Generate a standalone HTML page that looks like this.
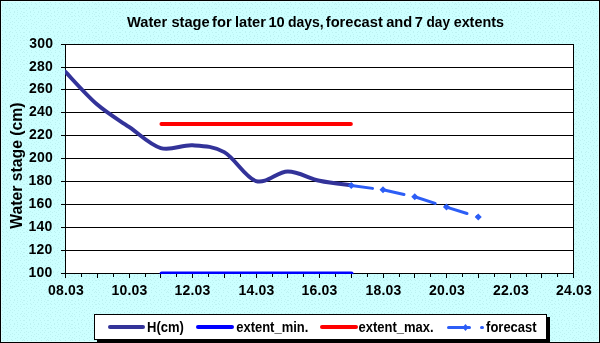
<!DOCTYPE html><html><head><meta charset="utf-8"><style>html,body{margin:0;padding:0;background:#fff;overflow:hidden;}svg{display:block;will-change:transform;}text{font-family:"Liberation Sans",sans-serif;font-weight:bold;fill:#000;}</style></head><body>
<svg width="600" height="343" viewBox="0 0 600 343">
<rect x="0" y="0" width="600" height="343" fill="#000"/>
<defs><pattern id="bgp" width="24" height="24" patternUnits="userSpaceOnUse"><rect width="24" height="24" fill="#CCFFFF"/><g fill="#BCF1F1"><rect x="0" y="1" width="1" height="1"/><rect x="4" y="0" width="1" height="1"/><rect x="9" y="0" width="1" height="1"/><rect x="12" y="0" width="1" height="1"/><rect x="17" y="1" width="1" height="1"/><rect x="21" y="1" width="1" height="1"/><rect x="2" y="2" width="1" height="1"/><rect x="7" y="2" width="1" height="1"/><rect x="11" y="3" width="1" height="1"/><rect x="15" y="2" width="1" height="1"/><rect x="20" y="2" width="1" height="1"/><rect x="23" y="3" width="1" height="1"/><rect x="0" y="4" width="1" height="1"/><rect x="3" y="4" width="1" height="1"/><rect x="7" y="4" width="1" height="1"/><rect x="12" y="4" width="1" height="1"/><rect x="17" y="4" width="1" height="1"/><rect x="22" y="4" width="1" height="1"/><rect x="2" y="6" width="1" height="1"/><rect x="5" y="7" width="1" height="1"/><rect x="10" y="7" width="1" height="1"/><rect x="15" y="6" width="1" height="1"/><rect x="19" y="6" width="1" height="1"/><rect x="0" y="8" width="1" height="1"/><rect x="5" y="8" width="1" height="1"/><rect x="9" y="8" width="1" height="1"/><rect x="12" y="8" width="1" height="1"/><rect x="16" y="8" width="1" height="1"/><rect x="20" y="8" width="1" height="1"/><rect x="23" y="8" width="1" height="1"/><rect x="2" y="10" width="1" height="1"/><rect x="6" y="11" width="1" height="1"/><rect x="9" y="10" width="1" height="1"/><rect x="14" y="11" width="1" height="1"/><rect x="17" y="10" width="1" height="1"/><rect x="21" y="11" width="1" height="1"/><rect x="0" y="12" width="1" height="1"/><rect x="3" y="13" width="1" height="1"/><rect x="6" y="12" width="1" height="1"/><rect x="10" y="12" width="1" height="1"/><rect x="14" y="12" width="1" height="1"/><rect x="17" y="12" width="1" height="1"/><rect x="20" y="13" width="1" height="1"/><rect x="23" y="12" width="1" height="1"/><rect x="2" y="15" width="1" height="1"/><rect x="6" y="15" width="1" height="1"/><rect x="9" y="14" width="1" height="1"/><rect x="13" y="14" width="1" height="1"/><rect x="17" y="14" width="1" height="1"/><rect x="22" y="14" width="1" height="1"/><rect x="0" y="16" width="1" height="1"/><rect x="3" y="16" width="1" height="1"/><rect x="7" y="16" width="1" height="1"/><rect x="11" y="16" width="1" height="1"/><rect x="16" y="16" width="1" height="1"/><rect x="20" y="16" width="1" height="1"/><rect x="23" y="16" width="1" height="1"/><rect x="2" y="19" width="1" height="1"/><rect x="6" y="19" width="1" height="1"/><rect x="10" y="18" width="1" height="1"/><rect x="14" y="18" width="1" height="1"/><rect x="18" y="18" width="1" height="1"/><rect x="21" y="18" width="1" height="1"/><rect x="0" y="20" width="1" height="1"/><rect x="4" y="20" width="1" height="1"/><rect x="8" y="20" width="1" height="1"/><rect x="12" y="21" width="1" height="1"/><rect x="16" y="20" width="1" height="1"/><rect x="20" y="20" width="1" height="1"/><rect x="2" y="22" width="1" height="1"/><rect x="7" y="23" width="1" height="1"/><rect x="10" y="22" width="1" height="1"/><rect x="14" y="22" width="1" height="1"/><rect x="18" y="22" width="1" height="1"/><rect x="22" y="23" width="1" height="1"/></g></pattern></defs>
<rect x="1" y="1" width="598" height="341" fill="url(#bgp)"/>
<rect x="1.5" y="1.5" width="597" height="340" fill="none" stroke="#DCFFFF" stroke-width="1"/>
<text x="126.99" y="27" font-size="14.67">Water</text>
<text x="171.38" y="27" font-size="14.67">stage</text>
<text x="212.05" y="27" font-size="14.67">for</text>
<text x="234.98" y="27" font-size="14.67">later</text>
<text x="268.38" y="27" font-size="14.67">10</text>
<g transform="translate(288.50,0) scale(0.955,1) translate(-288.50,0)"><text x="287.90" y="27" font-size="14.67">days,</text></g>
<text x="325.75" y="27" font-size="14.67">forecast</text>
<text x="386.17" y="27" font-size="14.67">and</text>
<text x="414.87" y="27" font-size="14.67">7</text>
<g transform="translate(427.10,0) scale(0.93,1) translate(-427.10,0)"><text x="426.50" y="27" font-size="14.67">day</text></g>
<g transform="translate(454.20,0) scale(0.98,1) translate(-454.20,0)"><text x="453.63" y="27" font-size="14.67">extents</text></g>
<rect x="66" y="45" width="507" height="228" fill="#fff"/>
<rect x="61" y="44" width="513" height="1" fill="#000"/><rect x="61" y="67" width="513" height="1" fill="#000"/><rect x="61" y="89" width="513" height="1" fill="#000"/><rect x="61" y="112" width="513" height="1" fill="#000"/><rect x="61" y="135" width="513" height="1" fill="#000"/><rect x="61" y="158" width="513" height="1" fill="#000"/><rect x="61" y="181" width="513" height="1" fill="#000"/><rect x="61" y="204" width="513" height="1" fill="#000"/><rect x="61" y="227" width="513" height="1" fill="#000"/><rect x="61" y="250" width="513" height="1" fill="#000"/><rect x="61" y="273" width="513" height="1" fill="#000"/>
<rect x="65" y="44" width="1" height="234" fill="#000"/>
<rect x="573" y="44" width="1" height="234" fill="#000"/>
<rect x="81" y="274" width="1" height="3" fill="#000"/><rect x="97" y="274" width="1" height="4" fill="#000"/><rect x="113" y="274" width="1" height="3" fill="#000"/><rect x="129" y="274" width="1" height="4" fill="#000"/><rect x="145" y="274" width="1" height="3" fill="#000"/><rect x="160" y="274" width="1" height="4" fill="#000"/><rect x="176" y="274" width="1" height="3" fill="#000"/><rect x="192" y="274" width="1" height="4" fill="#000"/><rect x="208" y="274" width="1" height="3" fill="#000"/><rect x="224" y="274" width="1" height="4" fill="#000"/><rect x="240" y="274" width="1" height="3" fill="#000"/><rect x="256" y="274" width="1" height="4" fill="#000"/><rect x="272" y="274" width="1" height="3" fill="#000"/><rect x="287" y="274" width="1" height="4" fill="#000"/><rect x="303" y="274" width="1" height="3" fill="#000"/><rect x="319" y="274" width="1" height="4" fill="#000"/><rect x="335" y="274" width="1" height="3" fill="#000"/><rect x="351" y="274" width="1" height="4" fill="#000"/><rect x="367" y="274" width="1" height="3" fill="#000"/><rect x="383" y="274" width="1" height="4" fill="#000"/><rect x="399" y="274" width="1" height="3" fill="#000"/><rect x="414" y="274" width="1" height="4" fill="#000"/><rect x="430" y="274" width="1" height="3" fill="#000"/><rect x="446" y="274" width="1" height="4" fill="#000"/><rect x="462" y="274" width="1" height="3" fill="#000"/><rect x="478" y="274" width="1" height="4" fill="#000"/><rect x="494" y="274" width="1" height="3" fill="#000"/><rect x="510" y="274" width="1" height="4" fill="#000"/><rect x="526" y="274" width="1" height="3" fill="#000"/><rect x="541" y="274" width="1" height="4" fill="#000"/><rect x="557" y="274" width="1" height="3" fill="#000"/>
<g transform="translate(0,48) scale(1,1.09) translate(0,-48)"><text x="29.18 37.18 45.18" y="48" font-size="14">300</text></g>
<g transform="translate(0,71) scale(1,1.09) translate(0,-71)"><text x="29.01 37.01 45.01" y="71" font-size="14">280</text></g>
<g transform="translate(0,93) scale(1,1.09) translate(0,-93)"><text x="29.01 37.01 45.01" y="93" font-size="14">260</text></g>
<g transform="translate(0,116) scale(1,1.09) translate(0,-116)"><text x="29.01 37.01 45.01" y="116" font-size="14">240</text></g>
<g transform="translate(0,139) scale(1,1.09) translate(0,-139)"><text x="29.01 37.01 45.01" y="139" font-size="14">220</text></g>
<g transform="translate(0,162) scale(1,1.09) translate(0,-162)"><text x="29.01 37.01 45.01" y="162" font-size="14">200</text></g>
<g transform="translate(0,185) scale(1,1.09) translate(0,-185)"><text x="28.62 36.62 44.62" y="185" font-size="14">180</text></g>
<g transform="translate(0,208) scale(1,1.09) translate(0,-208)"><text x="28.62 36.62 44.62" y="208" font-size="14">160</text></g>
<g transform="translate(0,231) scale(1,1.09) translate(0,-231)"><text x="28.62 36.62 44.62" y="231" font-size="14">140</text></g>
<g transform="translate(0,254) scale(1,1.09) translate(0,-254)"><text x="28.62 36.62 44.62" y="254" font-size="14">120</text></g>
<g transform="translate(0,277) scale(1,1.09) translate(0,-277)"><text x="28.62 36.62 44.62" y="277" font-size="14">100</text></g>
<g transform="translate(0,295) scale(1,1.09) translate(0,-295)"><text x="47.95 55.95 63.95 67.95 75.95" y="295" font-size="14">08.03</text></g>
<g transform="translate(0,295) scale(1,1.09) translate(0,-295)"><text x="111.62 119.62 127.62 131.62 139.62" y="295" font-size="14">10.03</text></g>
<g transform="translate(0,295) scale(1,1.09) translate(0,-295)"><text x="174.62 182.62 190.62 194.62 202.62" y="295" font-size="14">12.03</text></g>
<g transform="translate(0,295) scale(1,1.09) translate(0,-295)"><text x="238.62 246.62 254.62 258.62 266.62" y="295" font-size="14">14.03</text></g>
<g transform="translate(0,295) scale(1,1.09) translate(0,-295)"><text x="301.62 309.62 317.62 321.62 329.62" y="295" font-size="14">16.03</text></g>
<g transform="translate(0,295) scale(1,1.09) translate(0,-295)"><text x="365.62 373.62 381.62 385.62 393.62" y="295" font-size="14">18.03</text></g>
<g transform="translate(0,295) scale(1,1.09) translate(0,-295)"><text x="429.01 437.01 445.01 449.01 457.01" y="295" font-size="14">20.03</text></g>
<g transform="translate(0,295) scale(1,1.09) translate(0,-295)"><text x="493.01 501.01 509.01 513.01 521.01" y="295" font-size="14">22.03</text></g>
<g transform="translate(0,295) scale(1,1.09) translate(0,-295)"><text x="556.01 564.01 572.01 576.01 584.01" y="295" font-size="14">24.03</text></g>
<text transform="translate(22.3,228.7) rotate(-90) scale(0.984,1)" font-size="16">Water stage (cm)</text>
<defs><clipPath id="pc"><rect x="65" y="44" width="509" height="230"/></clipPath></defs>
<g clip-path="url(#pc)">
<line x1="161.45" y1="124" x2="350.85" y2="124" stroke="#FF0000" stroke-width="4" stroke-linecap="round"/>
<line x1="161.55" y1="273.5" x2="351.55" y2="273.5" stroke="#0000FF" stroke-width="4" stroke-linecap="round"/>
<path d="M65.50,71.98 C70.79,77.42 86.67,95.45 97.25,104.61 C107.83,113.77 118.42,119.69 129.00,126.94 C139.58,134.19 150.17,145.07 160.75,148.12 C171.33,151.18 181.92,144.59 192.50,145.26 C203.08,145.93 213.67,146.16 224.25,152.13 C234.83,158.10 245.42,177.85 256.00,181.10 C266.58,184.34 277.17,171.65 287.75,171.59 C298.33,171.54 308.92,178.47 319.50,180.75 C330.08,183.04 345.96,184.57 351.25,185.33" fill="none" stroke="#333399" stroke-width="4" stroke-linecap="round" stroke-linejoin="round"/>
<line x1="351.25" y1="185.45" x2="383.00" y2="189.80" stroke="#2D5EF6" stroke-width="3" stroke-dasharray="21.5 10.5" stroke-linecap="round" transform="translate(0,0)"/>
<line x1="383.00" y1="189.80" x2="414.75" y2="196.78" stroke="#2D5EF6" stroke-width="3" stroke-dasharray="21.5 10.5" stroke-linecap="round" transform="translate(0,0)"/>
<line x1="414.75" y1="196.78" x2="446.50" y2="207.09" stroke="#2D5EF6" stroke-width="3" stroke-dasharray="21.5 10.5" stroke-linecap="round" transform="translate(0,0)"/>
<line x1="446.50" y1="207.09" x2="478.25" y2="216.94" stroke="#2D5EF6" stroke-width="3" stroke-dasharray="21.5 10.5" stroke-linecap="round" transform="translate(0,0)"/>
<path d="M351.25,181.95 L354.75,185.45 L351.25,188.95 L347.75,185.45 Z" fill="#2D5EF6"/>
<path d="M383.00,186.30 L386.50,189.80 L383.00,193.30 L379.50,189.80 Z" fill="#2D5EF6"/>
<path d="M414.75,193.28 L418.25,196.78 L414.75,200.28 L411.25,196.78 Z" fill="#2D5EF6"/>
<path d="M446.50,203.59 L450.00,207.09 L446.50,210.59 L443.00,207.09 Z" fill="#2D5EF6"/>
<path d="M478.25,213.44 L481.75,216.94 L478.25,220.44 L474.75,216.94 Z" fill="#2D5EF6"/>
</g>
<rect x="97" y="317" width="453" height="26" fill="#000"/>
<rect x="94" y="314" width="453" height="26" fill="#000"/>
<rect x="95" y="315" width="451" height="24" fill="#fff"/>
<line x1="110" y1="327" x2="143" y2="327" stroke="#333399" stroke-width="4" stroke-linecap="round"/>
<g transform="translate(0,332) scale(1,1.07) translate(0,-332)"><text x="147.13" y="332" font-size="13">H(cm)</text></g>
<line x1="198" y1="327" x2="232" y2="327" stroke="#0000FF" stroke-width="4" stroke-linecap="round"/>
<g transform="translate(0,332) scale(1,1.07) translate(0,-332)"><text x="236.19" y="332" font-size="13">extent_min.</text></g>
<line x1="322" y1="327" x2="356" y2="327" stroke="#FF0000" stroke-width="4" stroke-linecap="round"/>
<g transform="translate(0,332) scale(1,1.07) translate(0,-332)"><text x="358.49" y="332" font-size="13">extent_max.</text></g>
<line x1="448.5" y1="327.5" x2="482.5" y2="327.5" stroke="#2D5EF6" stroke-width="3" stroke-dasharray="21 12" stroke-linecap="round"/>
<path d="M465.5,324 L468.5,327.5 L465.5,331 L462.5,327.5 Z" fill="#2D5EF6"/>
<g transform="translate(0,332) scale(1,1.07) translate(0,-332)"><text x="486.08" y="332" font-size="13">forecast</text></g>
</svg></body></html>
